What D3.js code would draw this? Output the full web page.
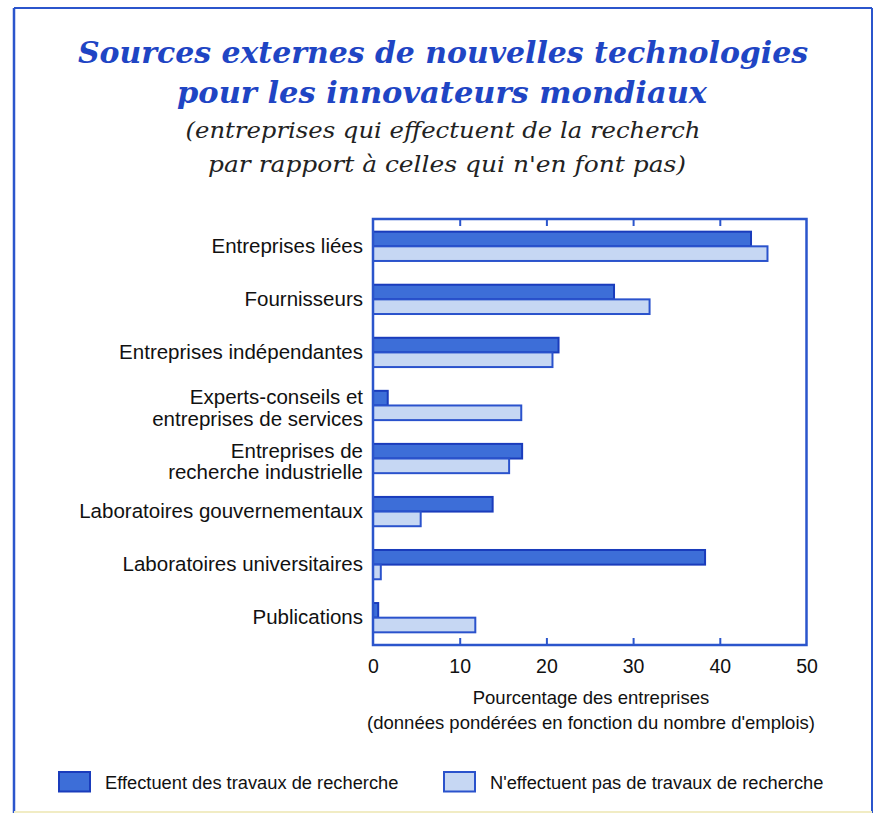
<!DOCTYPE html>
<html>
<head>
<meta charset="utf-8">
<script src="https://cdn.jsdelivr.net/npm/d3@7"></script>
<style>
  html, body { margin: 0; padding: 0; background: #ffffff; }
  svg { display: block; }
</style>
</head>
<body>
<svg id="chart" width="875" height="815"></svg>
<script>
// Sources of new technology, by category (line breaks mark wrapped labels)
const categories = [
  "Entreprises liées",
  "Fournisseurs",
  "Entreprises indépendantes",
  "Experts-conseils et\nentreprises de services",
  "Entreprises de\nrecherche industrielle",
  "Laboratoires gouvernementaux",
  "Laboratoires universitaires",
  "Publications"
];

// Percentage of firms (weighted by employment)
const doingResearch    = [43.6, 27.8, 21.4, 1.7, 17.2, 13.8, 38.3, 0.6];
const notDoingResearch = [45.5, 31.9, 20.7, 17.1, 15.7, 5.5, 0.9, 11.8];

const seriesNames = [
  "Effectuent des travaux de recherche",
  "N'effectuent pas de travaux de recherche"
];

const xTicks = [0, 10, 20, 30, 40, 50];

const titleLines = [
  "Sources externes de nouvelles technologies",
  "pour les innovateurs mondiaux"
];
const subtitleLines = [
  "(entreprises qui effectuent de la recherch",
  "par rapport à celles qui n'en font pas)"
];
const axisTitleLines = [
  "Pourcentage des entreprises",
  "(données pondérées en fonction du nombre d'emplois)"
];

// ---- styling ----
const BLUE = "#1f45c4";
const FRAME = "#2b55cc";
const DARK_FILL = "#3d6ed8";
const DARK_STROKE = "#1a3cbc";
const LIGHT_FILL = "#c6d7f3";
const LIGHT_STROKE = "#2a52cc";
const SANS = "'Liberation Sans', Arial, Helvetica, sans-serif";
const SERIF = "'DejaVu Serif', 'Liberation Serif', serif";

const svg = d3.select("#chart");

// outer frame
svg.append("line").attr("x1", 14).attr("x2", 872).attr("y1", 8).attr("y2", 8)
  .attr("stroke", FRAME).attr("stroke-width", 2);
svg.append("line").attr("x1", 14).attr("x2", 14).attr("y1", 8).attr("y2", 813)
  .attr("stroke", FRAME).attr("stroke-width", 2.5);
svg.append("line").attr("x1", 872).attr("x2", 872).attr("y1", 8).attr("y2", 813)
  .attr("stroke", FRAME).attr("stroke-width", 2);
svg.append("line").attr("x1", 14).attr("x2", 872).attr("y1", 812).attr("y2", 812)
  .attr("stroke", "#f1ecc4").attr("stroke-width", 2);

// title
const titleSpec = [
  { x: 443, y: 63, w: 730 },
  { x: 442, y: 103, w: 530 }
];
titleLines.forEach((t, i) => {
  svg.append("text")
    .attr("x", titleSpec[i].x).attr("y", titleSpec[i].y)
    .attr("text-anchor", "middle")
    .attr("font-family", SERIF)
    .attr("font-weight", "bold")
    .attr("font-style", "italic")
    .attr("font-size", 30)
    .attr("fill", BLUE)
    .attr("textLength", titleSpec[i].w)
    .attr("lengthAdjust", "spacingAndGlyphs")
    .text(t);
});

const subSpec = [
  { x: 443, y: 138, w: 515 },
  { x: 447, y: 172, w: 478 }
];
subtitleLines.forEach((t, i) => {
  svg.append("text")
    .attr("x", subSpec[i].x).attr("y", subSpec[i].y)
    .attr("text-anchor", "middle")
    .attr("font-family", SERIF)
    .attr("font-style", "italic")
    .attr("font-size", 23)
    .attr("fill", "#222")
    .attr("textLength", subSpec[i].w)
    .attr("lengthAdjust", "spacingAndGlyphs")
    .text(t);
});

// ---- plot area ----
const plot = { left: 373, right: 806.5, top: 219, bottom: 645 };

const x = d3.scaleLinear().domain([0, 50]).range([plot.left, plot.right]);
const y = d3.scaleBand()
  .domain(categories)
  .range([plot.top, plot.bottom])
  .paddingInner(0.448)
  .paddingOuter(0.239);
const bw = y.bandwidth();
const half = bw / 2;

const rows = categories.map((c, i) => ({ cat: c, a: doingResearch[i], b: notDoingResearch[i] }));

const gBars = svg.append("g");
// research performers (upper bar of each pair)
gBars.selectAll("rect.dark").data(rows).join("rect")
  .attr("class", "dark")
  .attr("x", x(0))
  .attr("y", d => y(d.cat))
  .attr("width", d => x(d.a) - x(0))
  .attr("height", half)
  .attr("fill", DARK_FILL)
  .attr("stroke", DARK_STROKE)
  .attr("stroke-width", 2);
// non-performers (lower bar of each pair)
gBars.selectAll("rect.light").data(rows).join("rect")
  .attr("class", "light")
  .attr("x", x(0))
  .attr("y", d => y(d.cat) + half)
  .attr("width", d => x(d.b) - x(0))
  .attr("height", half)
  .attr("fill", LIGHT_FILL)
  .attr("stroke", LIGHT_STROKE)
  .attr("stroke-width", 2);

// plot border
svg.append("rect")
  .attr("x", plot.left).attr("y", plot.top)
  .attr("width", plot.right - plot.left).attr("height", plot.bottom - plot.top)
  .attr("fill", "none").attr("stroke", FRAME).attr("stroke-width", 2.5);

// bottom axis: inward ticks + labels
const axB = svg.append("g")
  .attr("transform", `translate(0,${plot.bottom})`)
  .call(d3.axisBottom(x).tickValues(xTicks).tickSize(-7).tickPadding(14).tickFormat(d3.format("d")));
axB.select(".domain").remove();
axB.selectAll(".tick line").attr("stroke", FRAME).attr("stroke-width", 2)
  .filter(d => d === 0 || d === 50).remove();
axB.selectAll(".tick text")
  .attr("font-family", SANS).attr("font-size", 19.5).attr("fill", "#111");

// top axis: inward ticks only
const axT = svg.append("g")
  .attr("transform", `translate(0,${plot.top})`)
  .call(d3.axisTop(x).tickValues(xTicks).tickSize(-7).tickFormat(""));
axT.select(".domain").remove();
axT.selectAll(".tick line").attr("stroke", FRAME).attr("stroke-width", 2)
  .filter(d => d === 0 || d === 50).remove();

// category labels
const gLab = svg.append("g")
  .attr("font-family", SANS).attr("font-size", 20.5).attr("fill", "#111")
  .attr("text-anchor", "end");
rows.forEach(d => {
  const lines = d.cat.split("\n");
  const cy = y(d.cat) + half;
  const t = gLab.append("text");
  if (lines.length === 1) {
    t.append("tspan").attr("x", 363).attr("y", cy + 6.5).text(lines[0]);
  } else {
    lines.forEach((ln, k) => {
      t.append("tspan").attr("x", 363).attr("y", cy - 1 + k * 21.5).text(ln);
    });
  }
});

// axis title
const axTitleY = [703.5, 729];
axisTitleLines.forEach((t, i) => {
  svg.append("text")
    .attr("x", 591).attr("y", axTitleY[i])
    .attr("text-anchor", "middle")
    .attr("font-family", SANS).attr("font-size", 18.5).attr("fill", "#111")
    .text(t);
});

// legend
const legend = [
  { name: seriesNames[0], fill: DARK_FILL, stroke: DARK_STROKE, x: 59 },
  { name: seriesNames[1], fill: LIGHT_FILL, stroke: LIGHT_STROKE, x: 444 }
];
const gLeg = svg.append("g");
legend.forEach(l => {
  gLeg.append("rect")
    .attr("x", l.x).attr("y", 772).attr("width", 31).attr("height", 19.5)
    .attr("fill", l.fill).attr("stroke", l.stroke).attr("stroke-width", 2);
  gLeg.append("text")
    .attr("x", l.x + 46).attr("y", 789)
    .attr("font-family", SANS).attr("font-size", 18.3).attr("fill", "#111")
    .text(l.name);
});
</script>
</body>
</html>
